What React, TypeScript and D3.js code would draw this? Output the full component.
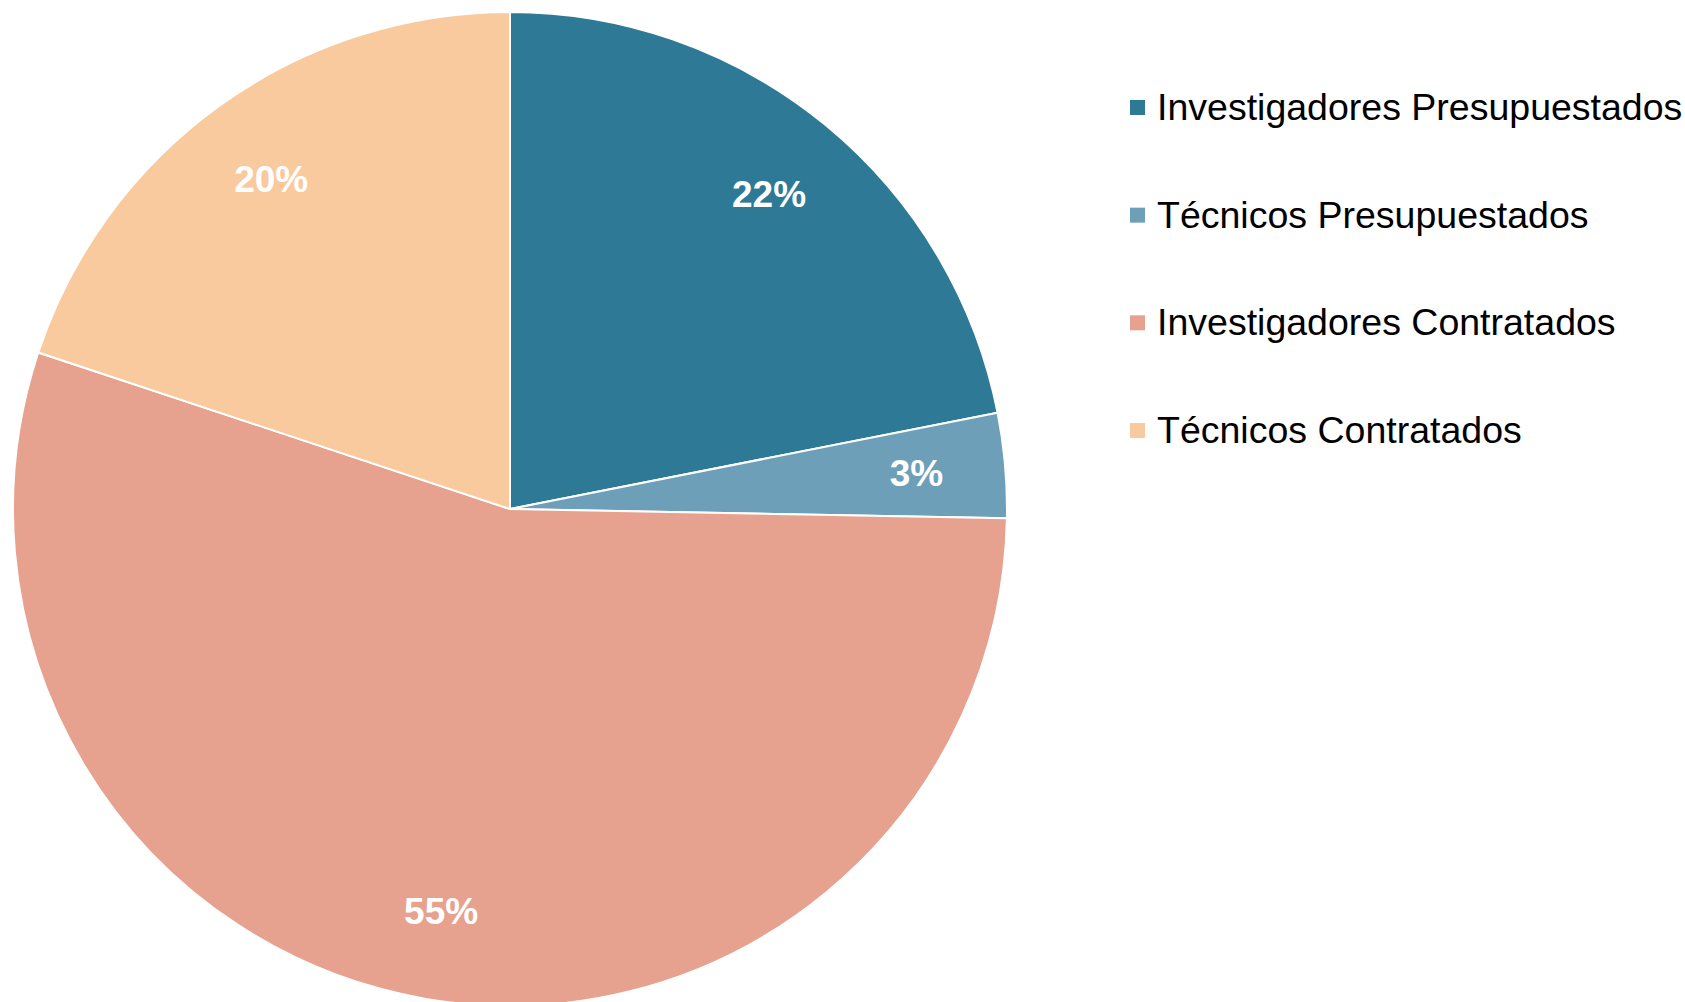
import React from "react";
import * as d3 from "d3";

const categories = [
  "Investigadores Presupuestados",
  "Técnicos Presupuestados",
  "Investigadores Contratados",
  "Técnicos Contratados",
];
const values = [21.9, 3.4, 54.8, 19.9];
const colors = ["#2E7995", "#6DA0B8", "#E6A28F", "#F8CA9D"];

const W = 1685;
const H = 1002;
const CX = 510;
const CY = 509;
const R = 497;
const LABEL_R = 408;
const FONT = "'Liberation Sans', Arial, sans-serif";

export default function App() {
  const pie = d3.pie<number>().sort(null).value((d) => d);
  const arcs = pie(values);
  const arc = d3.arc<d3.PieArcDatum<number>>().innerRadius(0).outerRadius(R);
  const labelArc = d3
    .arc<d3.PieArcDatum<number>>()
    .innerRadius(LABEL_R)
    .outerRadius(LABEL_R);
  const total = d3.sum(values);

  const legendY = d3
    .scalePoint<string>()
    .domain(categories)
    .range([120, 443]);

  return (
    <svg
      width={W}
      height={H}
      style={{ position: "absolute", left: 0, top: 0, background: "#fff" }}
    >
      <g transform={`translate(${CX},${CY})`}>
        {arcs.map((a, i) => (
          <path
            key={i}
            d={arc(a) || ""}
            fill={colors[i]}
            stroke="#fff"
            strokeWidth={2}
            strokeLinejoin="round"
          />
        ))}
        {arcs.map((a, i) => {
          const [x, y] = labelArc.centroid(a);
          return (
            <text
              key={i}
              x={x}
              y={y}
              dy="0.36em"
              textAnchor="middle"
              fill="#fff"
              fontFamily={FONT}
              fontWeight="bold"
              fontSize={37}
            >
              {Math.round((values[i] / total) * 100) + "%"}
            </text>
          );
        })}
      </g>
      <g>
        {categories.map((c, i) => {
          const by = legendY(c) as number;
          return (
            <g key={c}>
              <rect x={1130} y={by - 20} width={15} height={15} fill={colors[i]} />
              <text
                x={1157}
                y={by}
                fontFamily={FONT}
                fontSize={37.5}
                fill="#000"
              >
                {c}
              </text>
            </g>
          );
        })}
      </g>
    </svg>
  );
}
